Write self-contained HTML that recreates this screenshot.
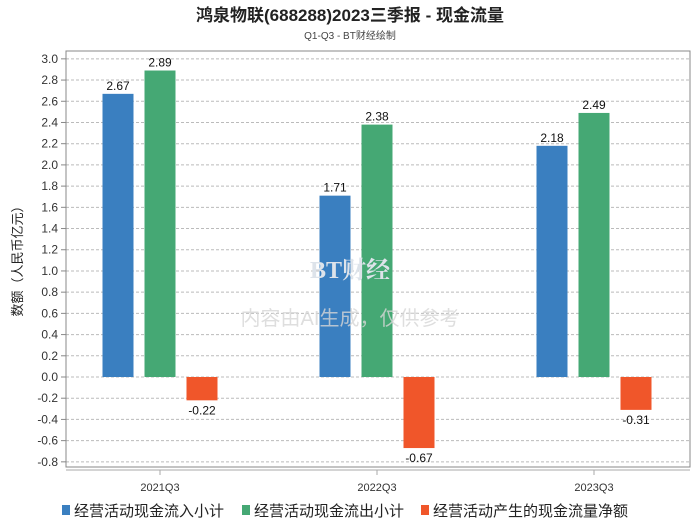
<!DOCTYPE html>
<html><head><meta charset="utf-8"><style>
body{margin:0;background:#fff;width:700px;height:524px;overflow:hidden;font-family:"Liberation Sans","Noto Sans CJK SC",sans-serif}
</style></head><body>
<svg id="c" width="700" height="524" xmlns="http://www.w3.org/2000/svg">
<text x="350" y="21" text-anchor="middle" font-size="17" font-weight="bold" fill="#222" font-family="Liberation Sans,Noto Sans CJK SC,sans-serif">鸿泉物联(688288)2023三季报 - 现金流量</text>
<text x="350" y="39" text-anchor="middle" font-size="10" fill="#444" font-family="Liberation Sans,Noto Sans CJK SC,sans-serif">Q1-Q3 - BT财经绘制</text>
<text transform="translate(22,258) rotate(-90)" text-anchor="middle" font-size="13" fill="#222" font-family="Liberation Sans,Noto Sans CJK SC,sans-serif">数额（人民币亿元）</text>
<g id="g"></g>
<text x="350" y="278" text-anchor="middle" font-size="24" fill="#dde3ea" font-weight="bold" font-family="Liberation Serif,Noto Serif CJK SC,serif">BT财经</text>
<text x="350" y="325" text-anchor="middle" font-size="20" fill="#d6d6d6" fill-opacity="0.8" font-family="Liberation Sans,Noto Sans CJK SC,sans-serif">内容由AI生成，仅供参考</text>
<g id="legend" font-size="15" fill="#222" font-family="Liberation Sans,Noto Sans CJK SC,sans-serif"></g>
</svg>
<script>
const categories=["2021Q3","2022Q3","2023Q3"];
const inflow=[2.67,1.71,2.18];
const outflow=[2.89,2.38,2.49];
const net=[-0.22,-0.67,-0.31];
const seriesNames=["经营活动现金流入小计","经营活动现金流出小计","经营活动产生的现金流量净额"];
const yTicks=[-0.8,-0.6,-0.4,-0.2,0,0.2,0.4,0.6,0.8,1.0,1.2,1.4,1.6,1.8,2.0,2.2,2.4,2.6,2.8,3.0];
const colors=["#3a7fc0","#45a874","#f0562a"];
const NS="http://www.w3.org/2000/svg";
const g=document.getElementById('g');
const L=66,R=690,T=51,B=467;
const y=v=>377-v*106.05;
const x=i=>160+i*217;
function mk(t,a,p){const e=document.createElementNS(NS,t);for(const k in a)e.setAttribute(k,a[k]);(p||g).appendChild(e);return e;}
yTicks.forEach(v=>{
 const l=mk('line',{x1:L,x2:R,y1:y(v),y2:y(v),stroke:'#bbb','stroke-dasharray':'3,2','stroke-width':1});
 
 
 mk('line',{x1:L-5,x2:L,y1:y(v),y2:y(v),stroke:'#888'});
 const t=mk('text',{x:L-8,y:y(v)+4,'text-anchor':'end','font-size':12,fill:'#333'});
 t.textContent=v.toFixed(1);
 
 
});
mk('rect',{x:L,y:T,width:R-L,height:B-T,fill:'none',stroke:'#888'});
mk('line',{x1:L,x2:R,y1:470,y2:470,stroke:'#aaa'});
const series=[inflow,outflow,net];
categories.forEach((c,i)=>{
 mk('line',{x1:x(i),x2:x(i),y1:470,y2:475,stroke:'#aaa'});
 const t=mk('text',{x:x(i),y:491,'text-anchor':'middle','font-size':11,fill:'#333'});
 t.textContent=c;
 
 
 series.forEach((s,j)=>{
  const v=s[i],cx=x(i)+(j-1)*42,w=31;
  const top=Math.min(y(v),y(0)),h=Math.abs(y(v)-y(0));
  const r=mk('rect',{x:cx-w/2,y:top,width:w,height:h,fill:colors[j]});
  
  
  const lt=mk('text',{x:cx,y:v>=0?y(v)-4:y(v)+14,'text-anchor':'middle','font-size':12,fill:'#111'});
  lt.textContent=v.toFixed(2);
  
  
 });
});
const lg=document.getElementById('legend');
const lx=[62,242,421];
seriesNames.forEach((n,j)=>{
 const r=mk('rect',{x:lx[j],y:505,width:8,height:10,fill:colors[j]},lg);
 
 
 const t=mk('text',{x:lx[j]+12,y:516},lg);
 t.textContent=n;
 
 
});
</script>
</body></html>
